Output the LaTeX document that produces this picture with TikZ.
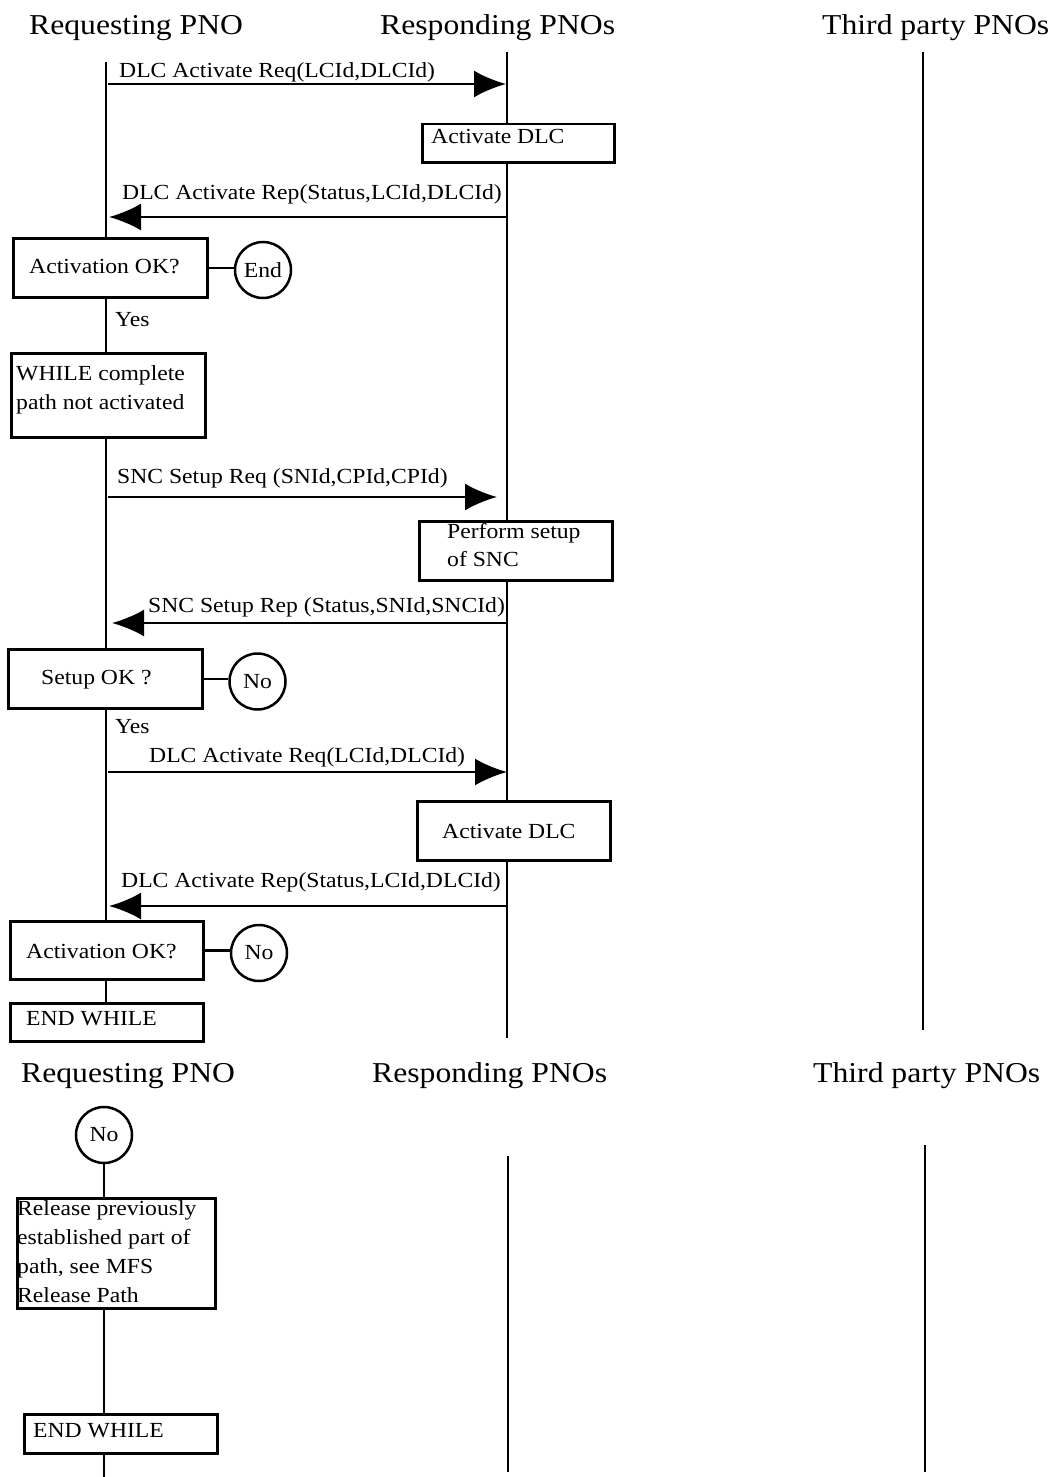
\documentclass[tikz,border=0pt]{standalone}
\usepackage{fontspec}
\setmainfont{Liberation Serif}[FakeStretch=1.1]
\usetikzlibrary{arrows.meta}
\begin{document}
\begin{tikzpicture}[x=1pt,y=-1pt,
  lifeline/.style={line width=2.5pt},
  msg/.style={line width=2.5pt,-{Latex[length=32pt,width=27pt]}},
  box/.style={draw,line width=2.5pt,fill=white,inner sep=0pt,anchor=north west},
  txt/.style={inner sep=0pt,anchor=base west,font=\fontsize{21.5}{29}\selectfont,align=left},
  hdr/.style={inner sep=0pt,anchor=base west,font=\fontsize{28.8}{34}\selectfont},
  term/.style={draw,circle,line width=2.5pt,minimum size=56pt,inner sep=0pt,fill=white,font=\fontsize{21.5}{24}\selectfont},
  link/.style={line width=2.5pt}]
\useasboundingbox (0,0) rectangle (1050,1477);

% ---------- top section ----------
\node[hdr] (h1) at (29,35) {Requesting PNO};
\node[hdr] (h2) at (380,35) {Responding PNOs};
\node[hdr] (h3) at (822,35) {Third party PNOs};

\coordinate (L1top) at (106,62);  \coordinate (L1bot) at (106,1002);
\coordinate (M1top) at (507,52);  \coordinate (M1bot) at (507,1038);
\coordinate (R1top) at (923,52);  \coordinate (R1bot) at (923,1030);
\draw[lifeline] (L1top) -- (L1bot);
\draw[lifeline] (M1top) -- (M1bot);
\draw[lifeline] (R1top) -- (R1bot);

% boxes
\node[box,minimum width=192pt,minimum height=38pt] (b1) at (421,123) {};
\node[box,minimum width=194pt,minimum height=59pt] (act1) at (12,237) {};
\node[box,minimum width=194pt,minimum height=84pt] (wh) at (10,352) {};
\node[box,minimum width=193pt,minimum height=59pt] (b2) at (418,520) {};
\node[box,minimum width=194pt,minimum height=59pt] (su) at (7,648) {};
\node[box,minimum width=193pt,minimum height=59pt] (b3) at (416,800) {};
\node[box,minimum width=193pt,minimum height=58pt] (act2) at (9,920) {};
\node[box,minimum width=193pt,minimum height=38pt] (ew1) at (9,1002) {};

% box texts (multi-line nodes: base = last line)
\node[txt] (tb1) at (431,143) {Activate DLC};
\node[txt] (tact1) at (29,273) {Activation OK?};
\node[txt] (twh) at (16,409) {WHILE complete\\path not activated};
\node[txt,font=\fontsize{21.5}{28}\selectfont] (tb2) at (447,566) {Perform setup\\of SNC};
\node[txt] (tsu) at (41,684) {Setup OK ?};
\node[txt] (tb3) at (442,838) {Activate DLC};
\node[txt] (tact2) at (26,958) {Activation OK?};
\node[txt] (tew1) at (26,1025) {END WHILE};

% circles
\node[term] (e1) at (263,270) {End};
\node[term] (n1) at (257.5,681.5) {No};
\node[term] (n2) at (259,953) {No};
\draw[link] (act1.east) -- (act1.east -| e1.west);
\draw[link] (su.east) -- (su.east -| n1.west);
\draw[link] (act2.east) -- (act2.east -| n2.west);

\node[txt] (y1) at (115,326) {Yes};
\node[txt] (y2) at (115,733) {Yes};

% messages
\coordinate (a1s) at (108,84);  \coordinate (a1e) at (506,84);
\draw[msg] (a1s) -- (a1e);
\node[txt] (m1) at (119,78) {DLC Activate Req(LCId,DLCId)};

\coordinate (a2s) at (506,217); \coordinate (a2e) at (109,217);
\draw[msg] (a2s) -- (a2e);
\node[txt] (m2) at (122,199) {DLC Activate Rep(Status,LCId,DLCId)};

\coordinate (a3s) at (108,497); \coordinate (a3e) at (497,497);
\draw[msg] (a3s) -- (a3e);
\node[txt] (m3) at (117,483) {SNC Setup Req (SNId,CPId,CPId)};

\coordinate (a4s) at (506,623); \coordinate (a4e) at (112,623);
\draw[msg] (a4s) -- (a4e);
\node[txt] (m4) at (148,612) {SNC Setup Rep (Status,SNId,SNCId)};

\coordinate (a5s) at (108,772); \coordinate (a5e) at (507,772);
\draw[msg] (a5s) -- (a5e);
\node[txt] (m5) at (149,762) {DLC Activate Req(LCId,DLCId)};

\coordinate (a6s) at (506,906); \coordinate (a6e) at (109,906);
\draw[msg] (a6s) -- (a6e);
\node[txt] (m6) at (121,887) {DLC Activate Rep(Status,LCId,DLCId)};

% ---------- bottom section ----------
\node[hdr] (h4) at (21,1082) {Requesting PNO};
\node[hdr] (h5) at (372,1082) {Responding PNOs};
\node[hdr] (h6) at (813,1082) {Third party PNOs};

\coordinate (M2top) at (508,1156); \coordinate (M2bot) at (508,1472);
\coordinate (R2top) at (925,1145); \coordinate (R2bot) at (925,1472);
\draw[lifeline] (M2top) -- (M2bot);
\draw[lifeline] (R2top) -- (R2bot);

\node[term] (n3) at (104,1135) {No};
\coordinate (L2bot) at (104,1477);
\draw[lifeline] (n3.south) -- (L2bot);

\node[box,minimum width=198pt,minimum height=110pt] (rel) at (16,1197) {};
\node[box,minimum width=193pt,minimum height=39pt] (ew2) at (23,1413) {};
\node[txt] (trel) at (17,1302) {Release previously\\established part of\\path, see MFS\\Release Path};
\node[txt] (tew2) at (33,1437) {END WHILE};
\end{tikzpicture}
\end{document}
